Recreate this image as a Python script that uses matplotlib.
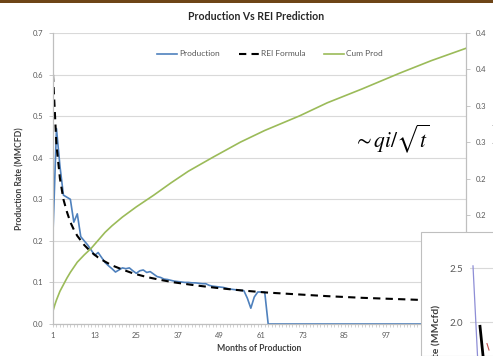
import matplotlib
matplotlib.use("Agg")
import matplotlib.pyplot as plt
from matplotlib.lines import Line2D
from matplotlib.patches import Rectangle

plt.rcParams['font.family'] = ['Lato', 'DejaVu Sans']
plt.rcParams['mathtext.fontset'] = 'stix'

# ---------------- data ----------------
months = list(range(1, 121))
production = [0.22, 0.47, 0.38, 0.31, 0.305, 0.30, 0.245, 0.265, 0.21, 0.20,
              0.19, 0.178, 0.165, 0.172, 0.16, 0.148, 0.14, 0.133, 0.125, 0.13,
              0.135, 0.133, 0.135, 0.128, 0.122, 0.128, 0.13, 0.124, 0.126, 0.12,
              0.114, 0.112, 0.108, 0.107, 0.105, 0.103, 0.102, 0.101, 0.100, 0.100,
              0.099, 0.099, 0.098, 0.097, 0.097, 0.093, 0.091, 0.090, 0.089, 0.088,
              0.086, 0.084, 0.083, 0.082, 0.081, 0.080, 0.062, 0.038, 0.065, 0.077,
              0.077, 0.077] + [0.0] * 58

rei_months = [1, 2, 3, 4, 5, 6, 7, 8, 10, 12, 14, 16, 18, 21, 24, 28, 32, 36,
              42, 48, 55, 62, 70, 80, 90, 100, 110, 120]
rei_values = [0.60, 0.43, 0.35, 0.30, 0.27, 0.245, 0.227, 0.212, 0.19, 0.173,
              0.160, 0.150, 0.141, 0.131, 0.122, 0.113, 0.106, 0.100, 0.093,
              0.087, 0.081, 0.076, 0.072, 0.067, 0.063, 0.060, 0.057, 0.055]

cum_months = [1, 1.5, 2, 2.5, 3, 4, 5, 6, 7, 8, 10, 12, 14, 16, 18, 21, 25, 30,
              35, 40, 47, 55, 62, 72, 80, 90, 101, 110, 120]
cum_values = [0.018, 0.026, 0.033, 0.039, 0.045, 0.054, 0.063, 0.071, 0.078,
              0.085, 0.095, 0.104, 0.115, 0.126, 0.135, 0.147, 0.161, 0.177,
              0.194, 0.210, 0.229, 0.250, 0.266, 0.286, 0.304, 0.323, 0.345,
              0.362, 0.379]

left_ticks = [0.0, 0.1, 0.2, 0.3, 0.4, 0.5, 0.6, 0.7]
right_ticks = [0.0, 0.05, 0.10, 0.15, 0.20, 0.25, 0.30, 0.35, 0.40]
right_ticklabels = ['0.0', '0.1', '0.1', '0.2', '0.2', '0.3', '0.3', '0.4', '0.4']
x_label_ticks = [1, 13, 25, 37, 49, 61, 73, 85, 97]

# inset fragment data
inset_a_x = [3, 7.5]
inset_a_y = [2.52, 1.69]
inset_b_x = [10, 13]
inset_b_y = [1.96, 1.69]
inset_c_x = [17, 19]
inset_c_y = [1.80, 1.74]

# ---------------- figure ----------------
W, H = 493, 356
fig = plt.figure(figsize=(W / 100, H / 100), dpi=100)
fig.patch.set_facecolor('white')

def fx(px):
    return px / W

def fy(py):
    return 1 - py / H

L, R, T, B = 53, 466, 33, 324
ax = fig.add_axes([fx(L), fy(B), fx(R - L), (B - T) / H])
ax2 = ax.twinx()

gray_txt = '#595959'
grid_c = '#d9d9d9'
spine_c = '#bfbfbf'

ax.plot(months, production, color='#4f81bd', lw=1.2, zorder=3)
ax.plot(rei_months, rei_values, color='black', lw=1.5, ls=(0, (3.5, 2.5)), zorder=4)
ax2.plot(cum_months, cum_values, color='#9bbb59', lw=1.2)

ax.set_xlim(1, 120)
ax.set_ylim(0, 0.7)
ax2.set_ylim(0, 0.4)

ax.set_yticks(left_ticks)
ax.set_yticklabels([f'{v:.1f}' for v in left_ticks])
ax2.set_yticks(right_ticks)
ax2.set_yticklabels(right_ticklabels)

ax.set_xticks(months)
ax.set_xticklabels([str(m) if m in x_label_ticks else '' for m in months])

ax.grid(axis='y', color=grid_c, lw=0.8)
ax.set_axisbelow(True)
for a in (ax, ax2):
    a.spines['top'].set_visible(False)
    for s in ('left', 'right', 'bottom'):
        a.spines[s].set_color(spine_c)
        a.spines[s].set_linewidth(0.8)
ax.tick_params(axis='x', length=2.5, width=0.5, color=spine_c, labelsize=5.5,
               labelcolor=gray_txt, pad=3)
ax.tick_params(axis='y', length=3, width=0.6, color=spine_c, labelsize=5.5,
               labelcolor=gray_txt, pad=4)
ax2.tick_params(axis='y', length=3, width=0.6, color=spine_c, labelsize=5.5,
                labelcolor=gray_txt, pad=4)

ax.set_xlabel('Months of Production', fontsize=6.2, fontweight='bold',
              color='#404040', labelpad=4)
ax.set_ylabel('Production Rate (MMCFD)', fontsize=6.2, fontweight='bold',
              color='#404040', labelpad=6)
ax2.set_ylabel('Cumulative Production (BCF)', fontsize=6.2, fontweight='bold',
               color='#404040', labelpad=6)

fig.text(fx(256), fy(17), 'Production Vs REI Prediction', ha='center',
         va='center', fontsize=7.6, fontweight='bold', color='#262626')

handles = [Line2D([], [], color='#4f81bd', lw=1.2),
           Line2D([], [], color='black', lw=1.5, ls=(0, (3.5, 2.5))),
           Line2D([], [], color='#9bbb59', lw=1.2)]
fig.legend(handles, ['Production', 'REI Formula', 'Cum Prod'], ncol=3,
           frameon=False, fontsize=6, loc='center',
           bbox_to_anchor=(fx(270), fy(54)), handlelength=2.4,
           handletextpad=0.3, columnspacing=2.2, labelcolor=gray_txt)

fig.text(fx(391), fy(139), r'$\sim qi/\sqrt{t}$', ha='center', va='center',
         fontsize=15.5, color='black')

# top brown band
fig.patches.append(Rectangle((0, fy(3)), 1, 3 / H, transform=fig.transFigure,
                             facecolor='#6e4517', edgecolor='none', zorder=5))

# inset box overlapping bottom right
fig.patches.append(Rectangle((fx(421), 0), fx(90), (H - 232) / H,
                             transform=fig.transFigure, facecolor='white',
                             edgecolor='#bfbfbf', lw=0.8, zorder=5))

iax = fig.add_axes([fx(470), 0, fx(30), (H - 262) / H], zorder=6)
iax.patch.set_alpha(0)
iax.set_xlim(0, 30)
iax.set_ylim(1.685, 2.556)
iax.plot(inset_a_x, inset_a_y, color='#8e8ed6', lw=0.9)
iax.plot(inset_b_x, inset_b_y, color='black', lw=2.0)
iax.plot(inset_c_x, inset_c_y, color='#c0504d', lw=0.8)
iax.set_yticks([2.0, 2.5])
iax.set_yticklabels(['2.0', '2.5'])
iax.set_xticks([])
iax.grid(axis='y', color=grid_c, lw=0.8)
iax.set_axisbelow(True)
for s in iax.spines.values():
    s.set_visible(False)
iax.tick_params(axis='y', length=0, labelsize=7, labelcolor=gray_txt, pad=5)
fig.text(fx(437), fy(305), 'Rate (MMcfd)', rotation=90, ha='center', va='top',
         fontsize=7.5, fontweight='bold', color='#404040', zorder=7)

fig.savefig('out.png', dpi=100)
